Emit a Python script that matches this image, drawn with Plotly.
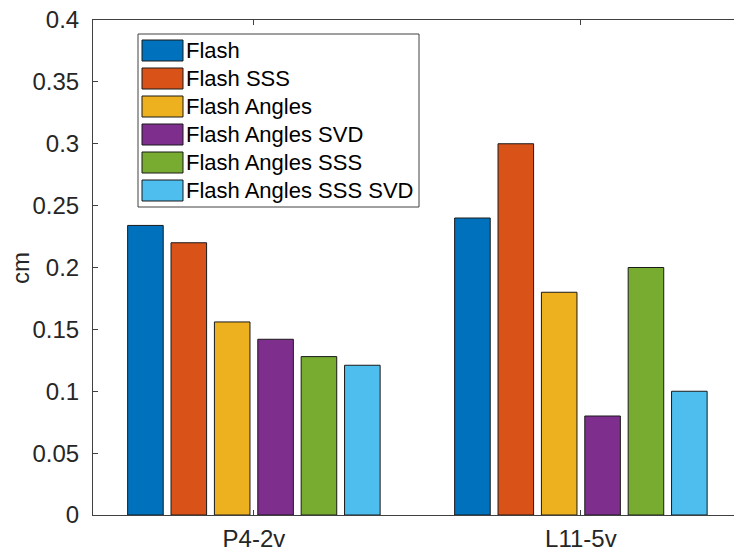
import plotly.graph_objects as go

categories = ["P4-2v", "L11-5v"]
series_names = ["Flash", "Flash SSS", "Flash Angles", "Flash Angles SVD",
                "Flash Angles SSS", "Flash Angles SSS SVD"]
flash = [0.234, 0.240]
flash_sss = [0.220, 0.300]
flash_angles = [0.156, 0.180]
flash_angles_svd = [0.142, 0.080]
flash_angles_sss = [0.128, 0.200]
flash_angles_sss_svd = [0.121, 0.100]
series_values = [flash, flash_sss, flash_angles, flash_angles_svd,
                 flash_angles_sss, flash_angles_sss_svd]
colors = ["#0072BD", "#D95319", "#EDB120", "#7E2F8E", "#77AC30", "#4DBEEE"]
y_ticks = [0, 0.05, 0.1, 0.15, 0.2, 0.25, 0.3, 0.35, 0.4]
y_tick_labels = ["0", "0.05", "0.1", "0.15", "0.2", "0.25", "0.3", "0.35", "0.4"]

W, H = 734, 547
ML, MR, MT, MB = 93, 0, 20, 32
PW, PH = W - ML - MR, H - MT - MB

x_pos = [1, 2]
fig = go.Figure()
for name, vals, col in zip(series_names, series_values, colors):
    fig.add_trace(go.Bar(
        x=x_pos, y=vals, name=name, marker_color=col,
        marker_line_color="#1a1a1a", marker_line_width=1, showlegend=False))

FONT = "Liberation Sans, Arial, sans-serif"
AX = "#404040"
TXT = "#262626"

def px_x(p):
    return (p - ML) / PW

def px_y(p):
    return (H - MB - p) / PH

# MATLAB-style legend with large swatches
box_l, box_r, box_t, box_b = 138, 419, 34, 207
shapes = [dict(type="rect", xref="paper", yref="paper",
               x0=px_x(box_l), x1=px_x(box_r), y0=px_y(box_b), y1=px_y(box_t),
               line=dict(color=AX, width=1), fillcolor="white", layer="above")]
annotations = []
for i, (name, col) in enumerate(zip(series_names, colors)):
    top = 40 + 28 * i
    shapes.append(dict(type="rect", xref="paper", yref="paper",
                       x0=px_x(142), x1=px_x(183), y0=px_y(top + 21), y1=px_y(top),
                       line=dict(color="#1a1a1a", width=1), fillcolor=col, layer="above"))
    annotations.append(dict(xref="paper", yref="paper", x=px_x(184), y=px_y(top + 10.5),
                            text=name, showarrow=False, xanchor="left", yanchor="middle",
                            font=dict(family=FONT, size=22, color="#000000")))

# y-axis title
annotations.append(dict(xref="paper", yref="paper", x=px_x(20), y=px_y(268),
                        text="cm", showarrow=False, textangle=-90,
                        xanchor="center", yanchor="middle",
                        font=dict(family=FONT, size=24, color=TXT)))

x0 = 0.508
fig.update_layout(
    width=W, height=H,
    margin=dict(l=ML, r=MR, t=MT, b=MB, autoexpand=False),
    paper_bgcolor="white", plot_bgcolor="white",
    barmode="group", bargap=0.204, bargroupgap=0.18,
    font=dict(family=FONT, size=24, color=TXT),
    shapes=shapes, annotations=annotations,
    xaxis=dict(range=[x0, x0 + PW / 327.0], tickvals=x_pos, ticktext=categories,
               showline=True, linecolor=AX, linewidth=1, mirror="ticks",
               ticks="inside", ticklen=5, tickcolor=AX, showgrid=False, zeroline=False,
               ticklabelstandoff=2, automargin=False,
               tickfont=dict(size=24, color=TXT)),
    yaxis=dict(range=[0, 0.4], tickvals=y_ticks, ticktext=y_tick_labels,
               showline=True, linecolor=AX, linewidth=1, mirror=False,
               ticks="inside", ticklen=5, tickcolor=AX, showgrid=False, zeroline=False,
               ticklabelstandoff=8, automargin=False,
               tickfont=dict(size=24, color=TXT)),
)

fig.write_html("out.html", config={"displayModeBar": False},
               post_script="document.body.style.margin='0';document.body.style.overflow='hidden';")
